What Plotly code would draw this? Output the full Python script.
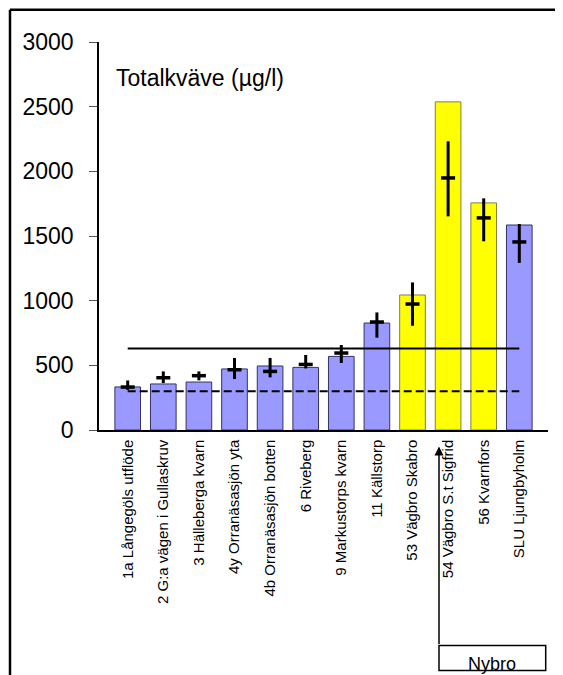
import plotly.graph_objects as go

categories = ["1a Långegöls utflöde", "2 G:a vägen i Gullaskruv", "3 Hälleberga kvarn",
              "4y Orranäsasjön yta", "4b Orranäsasjön botten", "6 Riveberg",
              "9 Markustorps kvarn", "11 Källstorp", "53 Vägbro Skabro",
              "54 Vägbro S.t Sigfrid", "56 Kvarnfors", "SLU Ljungbyholm"]
bar_values = [333, 356, 371, 472, 495, 484, 569, 827, 1044, 2537, 1756, 1585]
medians = [332, 404, 420, 466, 453, 507, 595, 835, 974, 1949, 1640, 1454]
upper = [383, 453, 453, 557, 557, 580, 657, 909, 1141, 2232, 1791, 1593]
lower = [310, 363, 384, 394, 407, 476, 518, 714, 806, 1652, 1459, 1292]
groups = ["b", "b", "b", "b", "b", "b", "b", "b", "y", "y", "y", "b"]
solid_level = 630
dashed_level = 300
y_ticks = [0, 500, 1000, 1500, 2000, 2500, 3000]

fill = {"b": "#9999FF", "y": "#FFFF00"}
edge = {"b": "#333366", "y": "#808040"}

FONT = "Liberation Sans, Arial, sans-serif"

fig = go.Figure()
fig.add_trace(go.Bar(
    x=categories, y=bar_values,
    marker=dict(color=[fill[g] for g in groups],
                line=dict(color=[edge[g] for g in groups], width=1)),
    showlegend=False, hoverinfo="skip"))

fig.add_trace(go.Scatter(
    x=categories, y=[solid_level] * len(categories), mode="lines",
    line=dict(color="black", width=2), showlegend=False, hoverinfo="skip"))
fig.add_trace(go.Scatter(
    x=categories, y=[dashed_level] * len(categories), mode="lines",
    line=dict(color="black", width=2, dash="8px,4px"), showlegend=False, hoverinfo="skip"))

fig.add_trace(go.Scatter(
    x=categories, y=medians, mode="markers",
    marker=dict(symbol="line-ew", size=10, line=dict(color="black", width=3.5)),
    error_y=dict(type="data", symmetric=False,
                 array=[u - m for u, m in zip(upper, medians)],
                 arrayminus=[m - l for m, l in zip(medians, lower)],
                 color="black", thickness=3, width=0),
    showlegend=False, hoverinfo="skip"))

# page has an 8px body margin; figure coordinates = page coordinates - 8
OFF = 8
W, H = 563 - OFF, 675 - OFF
L, R, T, B = 99 - OFF, 15, 42.3 - OFF, 675 - 430.3
pw, ph = W - L - R, H - T - B


def px_x(px):
    return (px - OFF - L) / pw


def px_y(py):
    return (H - B - (py - OFF)) / ph


fig.update_layout(
    width=W, height=H,
    margin=dict(l=L, r=R, t=T, b=B, pad=0),
    paper_bgcolor="white", plot_bgcolor="white",
    font=dict(family=FONT, color="black"),
    bargap=0.28,
    xaxis=dict(showline=True, linecolor="black", linewidth=1.5, ticks="",
               tickangle=-90, tickfont=dict(size=15, family=FONT, color="black"),
               ticklabelstandoff=2, showgrid=False, zeroline=False),
    yaxis=dict(range=[0, 3000], tickvals=y_ticks, showline=True, linecolor="black",
               linewidth=1.5, ticks="outside", ticklen=8, tickcolor="#555555",
               tickfont=dict(size=23, family=FONT, color="black"),
               ticklabelstandoff=11, showgrid=False, zeroline=False),
    shapes=[
        dict(type="line", xref="paper", yref="paper", x0=px_x(10), x1=px_x(600),
             y0=px_y(10), y1=px_y(10), line=dict(color="black", width=2.5)),
        dict(type="line", xref="paper", yref="paper", x0=px_x(10), x1=px_x(10),
             y0=px_y(10), y1=px_y(700), line=dict(color="black", width=2.5)),
        dict(type="rect", xref="paper", yref="paper", x0=px_x(439), x1=px_x(545.7),
             y0=px_y(645.7), y1=px_y(670.7), line=dict(color="black", width=1.5),
             fillcolor="rgba(0,0,0,0)"),
    ],
    annotations=[
        dict(text="Totalkväve (µg/l)", xref="paper", yref="paper",
             x=px_x(114), y=px_y(78), xanchor="left", yanchor="middle",
             showarrow=False, font=dict(size=23, family=FONT, color="black")),
        dict(text="Nybro", xref="paper", yref="paper", x=px_x(492), y=px_y(664),
             xanchor="center", yanchor="middle", showarrow=False,
             font=dict(size=18, family=FONT, color="black")),
        dict(text="", xref="paper", yref="paper", x=px_x(439), y=px_y(446.7),
             ax=0, ay=199, axref="pixel", ayref="pixel", showarrow=True,
             arrowhead=2, arrowsize=1.2, arrowwidth=1.5, arrowcolor="black"),
    ],
)

fig.write_html("out.html")
